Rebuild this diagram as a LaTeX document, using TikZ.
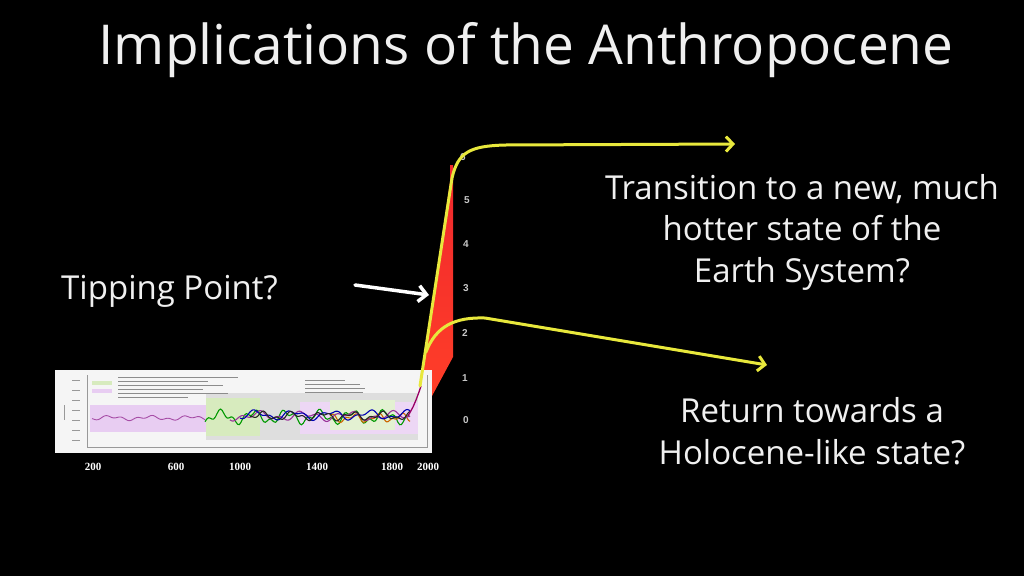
\documentclass[tikz,border=0pt]{standalone}
\usepackage{fontspec}
\setmainfont{Open Sans}
\newfontfamily\axisserif{Liberation Serif}
\newfontfamily\ticksans{Liberation Sans}
\usetikzlibrary{arrows.meta}
\definecolor{ylw}{RGB}{232,232,60}
\definecolor{wedgetop}{RGB}{240,40,45}
\definecolor{wedgebot}{RGB}{255,62,40}
\definecolor{lav}{RGB}{232,205,242}
\definecolor{bandgray}{RGB}{222,222,222}
\definecolor{bandgreen}{RGB}{215,235,190}
\begin{document}
\begin{tikzpicture}[x=1pt,y=-1pt,
  txt/.style={text=white!94!black,font=\fontsize{33}{41.5}\selectfont,align=center,inner sep=0pt},
  yarrow/.style={draw=ylw,line width=3pt,line cap=round,-{Straight Barb[length=7pt,width=15pt,line width=3pt]}},
  wharrow/.style={draw=white,line width=3.5pt,line cap=round,-{Straight Barb[length=8pt,width=16pt,line width=3.5pt]}},
  yrlab/.style={text=black!22,font=\ticksans\bfseries\fontsize{10}{10}\selectfont,inner sep=0pt},
  xlab/.style={text=white,font=\axisserif\bfseries\fontsize{11}{11}\selectfont,inner sep=0pt},
  legline/.style={draw=black!45,line width=0.8pt},
  dat/.style={line width=1.1pt}
]
\fill[black] (0,0) rectangle (1024,576);
\useasboundingbox (0,0) rectangle (1024,576);

% title
\node[txt,font=\fontsize{55}{60}\selectfont,anchor=base] (title) at (526,64) {Implications of the Anthropocene};

% red wedge
\fill[top color=wedgetop,bottom color=wedgebot] (450,165) -- (453,165) -- (453,357) -- (432,396) -- (420,396) -- (420,386) -- (450,182) -- cycle;

% right axis labels
\node[yrlab] (t0) at (466,420) {0};
\node[yrlab] (t1) at (465,378) {1};
\node[yrlab] (t2) at (465,333) {2};
\node[yrlab] (t3) at (466,288) {3};
\node[yrlab] (t4) at (466,244) {4};
\node[yrlab] (t5) at (467,200) {5};
\node[yrlab] (t6) at (463,157) {6};

% inset chart
\node[fill=white!96!black,minimum width=377pt,minimum height=83pt,inner sep=0pt,anchor=north west] (chart) at (55,370) {};
\fill[lav] (90,405) rectangle (206,432);
\fill[bandgray] (206,393) rectangle (418,440);
\fill[bandgreen] (206,398) rectangle (260,436);
\fill[lav!80!white] (300,402) rectangle (418,434);
\fill[bandgreen!70!white] (330,400) rectangle (395,430);
\draw[black!40,line width=0.6pt] (87,375) -- (87,447) -- (427,447) -- (427,375);
\foreach \yy in {380,390,400,410,420,430,440} {\draw[black!40,line width=0.5pt] (72,\yy) -- (80,\yy);}
\draw[black!40,line width=0.5pt] (64,405) -- (64,420);
% legend placeholders
\fill[bandgreen] (92,381) rectangle (112,385);
\fill[lav] (92,389) rectangle (112,393);
\foreach \yy/\ww in {377/120,381/90,385/105,389/85,393/110,397/70} {\draw[legline] (118,\yy) -- ++(\ww,0);}
\foreach \yy/\ww in {380/40,384/55,388/60,392/58} {\draw[legline] (305,\yy) -- ++(\ww,0);}
% data lines
\draw[violet!70,line width=0.9pt] plot[domain=92:205,samples=80] (\x,{418+1.5*sin(\x*9)+1.2*sin(\x*23)});
\draw[green!60!black,dat] plot[domain=205:410,samples=120] (\x,{417+5*sin(\x*11)+3*sin(\x*29)});
\draw[orange!80!black,dat] plot[domain=330:410,samples=60] (\x,{418+3*sin(\x*15)+2*sin(\x*31)});
\draw[violet!80,dat] plot[domain=230:410,samples=120] (\x,{416+3*sin(\x*8)+2.5*sin(\x*19)});
\draw[blue!70!black,dat] plot[domain=240:410,samples=120] (\x,{415+3.5*sin(\x*9.5)+2*sin(\x*21)});
\draw[black!85,dat] plot[domain=250:410,samples=120] (\x,{416+3*sin(\x*12)+2*sin(\x*27)});
\draw[violet!80!red,line width=1.3pt] (408,416) -- (413,407) -- (416,400) -- (419,392) -- (421,386);

% axis labels
\node[xlab] (x200) at (93,467) {200};
\node[xlab] (x600) at (176,467) {600};
\node[xlab] (x1000) at (240,467) {1000};
\node[xlab] (x1400) at (317,467) {1400};
\node[xlab] (x1800) at (392,467) {1800};
\node[xlab] (x2000) at (428,467) {2000};

% yellow pathways
\coordinate (knee) at (420,386);
\coordinate (branch) at (426,352);
\coordinate (hotEnd) at (735,144);
\coordinate (holoEnd) at (767,365);
\draw[yarrow] (knee) -- (452,178) .. controls (458,152) and (470,146) .. (505,145) -- (hotEnd);
\draw[yarrow] (branch) .. controls (436,326) and (455,317) .. (485,318) -- (holoEnd);

% texts
\node[txt,anchor=west] (tip) at (61,291) {Tipping Point?};
\node[txt] (hot) at (802,232) {Transition to a new, much\\hotter state of the\\Earth System?};
\node[txt] (holo) at (812,431) {Return towards a\\Holocene-like state?};

% tipping arrow
\coordinate (tipA) at (355,285);
\coordinate (tipB) at (429,295);
\draw[wharrow] (tipA) -- (tipB);
\end{tikzpicture}
\end{document}
